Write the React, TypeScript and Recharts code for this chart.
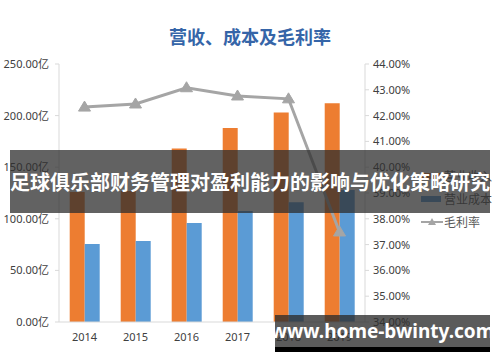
import React from "react";
import {
  ComposedChart,
  Bar,
  Line,
  XAxis,
  YAxis,
} from "recharts";

const years = ["2014", "2015", "2016", "2017", "2018", "2019"];
const revenue = [126, 127, 168, 188, 203, 212];
const cost = [75.5, 78.5, 96, 107.5, 116, 128];
const grossMargin = [42.33, 42.45, 43.08, 42.76, 42.65, 37.49];
const leftTicks = [0, 50, 100, 150, 200, 250];
const rightTicks = [34, 35, 36, 37, 38, 39, 40, 41, 42, 43, 44];
const legendLabels = ["营业收入", "营业成本", "毛利率"];

const data = years.map((y, i) => ({
  name: y,
  revenue: revenue[i],
  cost: cost[i],
  margin: grossMargin[i],
}));

const FONT = '"Noto Sans", "Noto Sans CJK SC", sans-serif';
const ORANGE = "#ED7D31";
const BLUE = "#5B9BD5";
const GRAY = "#A5A5A5";

// triangle markers like the Excel line
const Triangle = (props: any) => {
  const { cx, cy } = props;
  if (cx == null || cy == null) return null;
  return (
    <path
      d={`M${cx},${cy - 6} L${cx + 6},${cy + 4} L${cx - 6},${cy + 4} Z`}
      fill={GRAY}
      stroke={GRAY}
    />
  );
};

const ChartLegend = () => {
  const colors = [ORANGE, BLUE, GRAY];
  return (
    <div
      style={{
        position: "absolute",
        left: 421,
        top: 164,
        fontFamily: FONT,
        fontSize: 12,
        color: "#595959",
      }}
    >
      {legendLabels.map((label, i) => (
        <div
          key={label}
          style={{ display: "flex", alignItems: "center", height: 23 }}
        >
          {i < 2 ? (
            <span
              style={{
                display: "inline-block",
                width: 20,
                height: 6,
                background: colors[i],
                marginRight: 3,
              }}
            />
          ) : (
            <svg width={22} height={10} style={{ marginRight: 1 }}>
              <line x1={0} y1={5} x2={22} y2={5} stroke={colors[i]} strokeWidth={2} />
              <path d="M11,1 L15,8 L7,8 Z" fill={colors[i]} />
            </svg>
          )}
          <span>{label}</span>
        </div>
      ))}
    </div>
  );
};

export default function App() {
  return (
    <div
      style={{
        position: "relative",
        width: 500,
        height: 362,
        background: "#fff",
        overflow: "hidden",
      }}
    >
      <style>{"body{margin:0}"}</style>
      <div
        style={{
          position: "absolute",
          top: 23,
          left: 0,
          width: 500,
          textAlign: "center",
          fontFamily: FONT,
          fontWeight: 700,
          fontSize: 18,
          color: "#3565A8",
        }}
      >
        营收、成本及毛利率
      </div>
      <ComposedChart
        width={500}
        height={362}
        data={data}
        margin={{ top: 64, right: 75, left: 0, bottom: 10 }}
        barCategoryGap="21%"
        barGap={0}
      >
        <XAxis
          dataKey="name"
          height={30}
          tick={{ fontSize: 11, fill: "#404040", fontFamily: FONT, dy: 3 }}
          stroke="#D9D9D9"
          tickLine={false}
        />
        <YAxis
          yAxisId="left"
          width={59}
          domain={[0, 250]}
          ticks={leftTicks}
          tickFormatter={(v: number) => `${v.toFixed(2)}亿`}
          tick={{ fontSize: 11, fill: "#404040", fontFamily: FONT, dx: -4 }}
          stroke="#D9D9D9"
          tickSize={4}
        />
        <YAxis
          yAxisId="right"
          orientation="right"
          width={60}
          domain={[34, 44]}
          ticks={rightTicks}
          tickFormatter={(v: number) => `${v.toFixed(2)}%`}
          tick={{ fontSize: 11, fill: "#404040", fontFamily: FONT, dx: 2 }}
          stroke="#D9D9D9"
          tickSize={4}
        />
        <Bar
          yAxisId="left"
          dataKey="revenue"
          name="营业收入"
          fill={ORANGE}
          isAnimationActive={false}
        />
        <Bar
          yAxisId="left"
          dataKey="cost"
          name="营业成本"
          fill={BLUE}
          isAnimationActive={false}
        />
        <Line
          yAxisId="right"
          dataKey="margin"
          name="毛利率"
          stroke={GRAY}
          strokeWidth={3}
          dot={<Triangle />}
          activeDot={false}
          isAnimationActive={false}
        />
      </ComposedChart>
      <ChartLegend />
      <div
        style={{
          position: "absolute",
          left: 10,
          top: 150,
          width: 480,
          height: 63,
          background: "rgba(45,45,45,0.75)",
          color: "#fff",
          fontFamily: FONT,
          fontWeight: 700,
          fontSize: 20,
          display: "flex",
          alignItems: "center",
          justifyContent: "center",
          whiteSpace: "nowrap",
        }}
      >
        足球俱乐部财务管理对盈利能力的影响与优化策略研究
      </div>
      <div
        style={{
          position: "absolute",
          left: 275,
          top: 315,
          width: 215,
          height: 32,
          background: "rgba(45,45,45,0.78)",
          borderBottom: "5px solid #000",
          color: "#fff",
          fontFamily: FONT,
          fontWeight: 700,
          fontSize: 19,
          display: "flex",
          alignItems: "center",
          justifyContent: "center",
          whiteSpace: "nowrap",
        }}
      >
        www.home-bwinty.com
      </div>
    </div>
  );
}
